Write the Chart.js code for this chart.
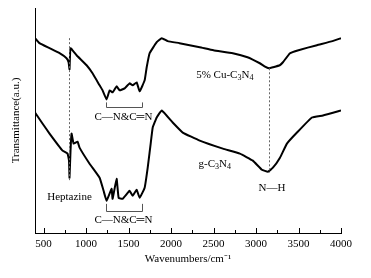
<!DOCTYPE html>
<html>
<head>
<meta charset="utf-8">
<script src="https://cdn.jsdelivr.net/npm/chart.js@4/dist/chart.umd.min.js"></script>
<style>
  html, body { margin: 0; padding: 0; background: #fff; }
  canvas { display: block; }
</style>
</head>
<body>
<canvas id="myChart" width="371" height="278"></canvas>
<script>
// 5% Cu-C3N4 spectrum (upper trace), arbitrary offset units
var cuWave = [400, 453, 571, 689, 771, 795, 806, 818, 889, 1007, 1077, 1160, 1195, 1242, 1278, 1313, 1360, 1396, 1455, 1513, 1549, 1596, 1631, 1690, 1714, 1749, 1832, 1891, 1961, 2100, 2338, 2500, 2727, 2900, 3045, 3100, 3152, 3200, 3280, 3317, 3400, 3500, 3717, 3900, 4000];
var cuValues = [194, 189, 184, 179, 174, 170, 163, 184, 177, 167, 159, 147, 142, 133, 142, 140, 146, 142, 144, 149, 147, 150, 141, 152, 165, 179, 190, 194, 191, 189, 185, 182, 179, 175, 169, 166, 164, 165, 167, 170, 179, 182, 187, 191, 194];

// g-C3N4 spectrum (lower trace)
var gWave = [400, 488, 571, 724, 783, 800, 806, 818, 830, 854, 901, 924, 1042, 1160, 1207, 1242, 1301, 1313, 1360, 1384, 1431, 1513, 1549, 1596, 1631, 1690, 1726, 1761, 1785, 1832, 1891, 2020, 2138, 2338, 2610, 2810, 2963, 3069, 3140, 3199, 3282, 3364, 3482, 3658, 3788, 4000];
var gValues = [120, 109, 99, 82, 79, 72, 55, 82, 99, 89, 91, 85, 69, 55, 42, 32, 44, 34, 54, 35, 34, 42, 37, 43, 35, 45, 65, 89, 105, 115, 122, 110, 100, 92, 84, 79, 72, 63, 61, 65, 75, 89, 100, 115, 117, 122];

var xTicks = [500, 1000, 1500, 2000, 2500, 3000, 3500, 4000];

var serif = "'Liberation Serif', 'Times New Roman', serif";

function toPoints(xs, ys) {
    return xs.map(function (x, i) { return { x: x, y: ys[i] }; });
}

// text with subscripts, parts = [[text, isSub], ...]
function drawChem(ctx, parts, cx, cy) {
    var big = '11px ' + serif, small = '8px ' + serif;
    var w = 0;
    parts.forEach(function (p) { ctx.font = p[1] ? small : big; w += ctx.measureText(p[0]).width; });
    var x = cx - w / 2;
    ctx.textBaseline = 'middle';
    ctx.textAlign = 'left';
    parts.forEach(function (p) {
        ctx.font = p[1] ? small : big;
        ctx.fillText(p[0], x, p[1] ? cy + 3 : cy);
        x += ctx.measureText(p[0]).width;
    });
}

var annotations = {
    id: 'annotations',
    afterDraw: function (chart) {
        var ctx = chart.ctx, xs = chart.scales.x, ys = chart.scales.y;
        var px = function (v) { return xs.getPixelForValue(v); };
        var py = function (v) { return ys.getPixelForValue(v); };
        ctx.save();

        // inward ticks on x axis (major every 500, minor every 250)
        ctx.fillStyle = '#000';
        var bottom = Math.round(chart.chartArea.bottom);
        for (var v = 500; v <= 4000; v += 250) {
            var len = v % 500 === 0 ? 5 : 3;
            ctx.fillRect(Math.round(px(v)), bottom - len, 1, len);
        }

        // dotted guide lines
        ctx.strokeStyle = '#666';
        ctx.lineWidth = 1;
        ctx.setLineDash([2, 2]);
        [[800, 194, 52], [3155, 164, 60]].forEach(function (d) {
            var x = Math.round(px(d[0])) + 0.5;
            ctx.beginPath();
            ctx.moveTo(x, py(d[1]));
            ctx.lineTo(x, py(d[2]));
            ctx.stroke();
        });
        ctx.setLineDash([]);

        // brackets
        ctx.strokeStyle = '#555';
        [[125, 130], [22, 29]].forEach(function (b) {
            var y = Math.round(py(b[0])) + 0.5, y2 = py(b[1]);
            var x1 = Math.round(px(1230)) + 0.5, x2 = Math.round(px(1655)) + 0.5;
            ctx.beginPath();
            ctx.moveTo(x1, y2); ctx.lineTo(x1, y); ctx.lineTo(x2, y); ctx.lineTo(x2, y2);
            ctx.stroke();
        });

        ctx.fillStyle = '#000';
        ctx.font = '11px ' + serif;
        ctx.textAlign = 'center';
        ctx.textBaseline = 'middle';
        ctx.fillText('C\u2014N&C\u2550N', px(1440), py(115));
        ctx.fillText('C\u2014N&C\u2550N', px(1440), py(13));
        ctx.fillText('Heptazine', px(806), py(36));
        ctx.fillText('N\u2014H', px(3187), py(45));

        drawChem(ctx, [['5% Cu-C', false], ['3', true], ['N', false], ['4', true]], px(2633), py(157));
        drawChem(ctx, [['g-C', false], ['3', true], ['N', false], ['4', true]], px(2515), py(69));

        ctx.restore();
    }
};

var ctx = document.getElementById('myChart').getContext('2d');
var chart = new Chart(ctx, {
    type: 'line',
    data: {
        datasets: [{
            label: '5% Cu-C3N4',
            data: toPoints(cuWave, cuValues),
            borderColor: '#000',
            borderWidth: 2,
            pointRadius: 0,
            tension: 0.1
        },
        {
            label: 'g-C3N4',
            data: toPoints(gWave, gValues),
            borderColor: '#000',
            borderWidth: 2,
            pointRadius: 0,
            tension: 0.1
        }]
    },
    plugins: [annotations],
    options: {
        responsive: false,
        animation: false,
        layout: { padding: { top: 8, right: 30, left: 0, bottom: 0 } },
        plugins: {
            legend: { display: false },
            tooltip: { enabled: false }
        },
        scales: {
            x: {
                type: 'linear',
                min: 400,
                max: 4000,
                afterBuildTicks: function (scale) {
                    scale.ticks = xTicks.map(function (v) { return { value: v }; });
                },
                afterFit: function (scale) { scale.height = 45; },
                grid: { drawOnChartArea: false, drawTicks: false },
                border: { display: true, color: '#000', width: 1 },
                ticks: {
                    autoSkip: false,
                    maxRotation: 0,
                    padding: 5,
                    color: '#000',
                    font: { family: serif, size: 11 },
                    callback: function (value) { return String(value); }
                },
                title: {
                    display: true,
                    text: 'Wavenumbers/cm\u207B\u00B9',
                    color: '#000',
                    font: { family: serif, size: 11 },
                    padding: { top: 0, bottom: 12 }
                }
            },
            y: {
                min: 0,
                max: 224,
                afterFit: function (scale) { scale.width = 35; },
                grid: { drawOnChartArea: false, drawTicks: false },
                border: { display: true, color: '#000', width: 1 },
                ticks: { display: false },
                title: {
                    display: true,
                    text: 'Transmittance(a.u.)',
                    color: '#000',
                    font: { family: serif, size: 11 },
                    padding: { top: 10, bottom: 0 }
                }
            }
        }
    }
});
</script>
</body>
</html>
